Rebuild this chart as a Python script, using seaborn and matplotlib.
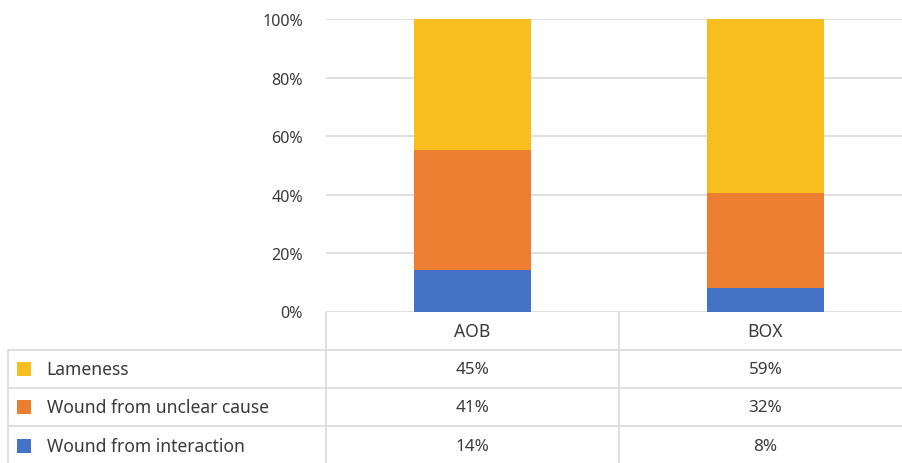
import matplotlib
matplotlib.use("Agg")
import matplotlib.pyplot as plt
from matplotlib.patches import Rectangle
import seaborn as sns
import pandas as pd
import numpy as np

# Share of cases by cause, per housing type (percent)
groups = ["AOB", "BOX"]
causes = ["Lameness", "Wound from unclear cause", "Wound from interaction"]
lameness = [44.6, 59.4]
wound_unclear = [41.1, 32.4]
wound_interaction = [14.3, 8.2]
colors = {"Lameness": "#F8BD1E",
          "Wound from unclear cause": "#ED7D31",
          "Wound from interaction": "#4472C4"}
yticks = [0, 20, 40, 60, 80, 100]

sns.set_theme(style="white")
plt.rcParams["font.family"] = ["Noto Sans", "DejaVu Sans"]
text_color = "#3A3A3A"
line_color = "#D9D9D9"
fs_words = 12.6
fs_table_nums = 12.3
fs_ticks = 11.6

W, H = 903, 464
fig = plt.figure(figsize=(W / 100, H / 100), dpi=100)

# plot area in pixel coordinates
x0, x1 = 326, 912
y_top, y_bot = 20.3, 312.5
ax = fig.add_axes([x0 / W, (H - y_bot) / H, (x1 - x0) / W, (y_bot - y_top) / H])

df = pd.DataFrame({"group": groups,
                   "Lameness": lameness,
                   "Wound from unclear cause": wound_unclear,
                   "Wound from interaction": wound_interaction})
# stacked bars: draw cumulative totals from the top segment down
stack_order = ["Wound from interaction", "Wound from unclear cause", "Lameness"]
cum = df[stack_order].cumsum(axis=1)
for cause in reversed(stack_order):
    sns.barplot(x=df["group"], y=cum[cause], color=colors[cause], width=0.4,
                errorbar=None, linewidth=0, saturation=1, ax=ax, zorder=3)

ax.set_xlim(-0.5, 1.5)
ax.set_ylim(0, 100)
ax.set_yticks(yticks)
ax.set_yticklabels([f"{t}%" for t in yticks], color=text_color, fontsize=fs_ticks)
ax.tick_params(axis="y", length=0, pad=16.5)
ax.set_xticks([])
ax.set_xlabel("")
ax.set_ylabel("")
for s in ax.spines.values():
    s.set_visible(False)
ax.yaxis.grid(True, color=line_color, linewidth=1.2, zorder=0)
ax.set_axisbelow(True)

# data table below the chart, drawn in pixel coordinates
ov = fig.add_axes([0, 0, 1, 1], zorder=-1)
ov.set_xlim(0, W)
ov.set_ylim(H, 0)
ov.axis("off")

fig.canvas.draw()
col_centers = [ax.transData.transform((i, 0))[0] for i in range(len(groups))]
col_mid = ax.transData.transform((0.5, 0))[0]

row_h = 38.3
header_top = y_bot
row_tops = [header_top + row_h * (i + 1) for i in range(len(causes))]
left_x = 8.3

for yt in row_tops:
    ov.plot([left_x, x1], [yt, yt], color=line_color, lw=1.2, solid_capstyle="butt")
ov.plot([left_x, left_x], [row_tops[0], H + 5], color=line_color, lw=1.2)
ov.plot([x0, x0], [header_top, H + 5], color=line_color, lw=1.2)
ov.plot([col_mid, col_mid], [header_top, H + 5], color=line_color, lw=1.2)

# header row
for xc, g in zip(col_centers, groups):
    ov.text(xc, header_top + row_h / 2, g, ha="center", va="center",
            fontsize=fs_words, color=text_color)

series = {"Lameness": lameness,
          "Wound from unclear cause": wound_unclear,
          "Wound from interaction": wound_interaction}
for yt, cause in zip(row_tops, causes):
    yc = yt + row_h / 2
    ov.add_patch(Rectangle((17.3, yc - 7), 13.7, 14, color=colors[cause], lw=0))
    ov.text(46.7, yc, cause, ha="left", va="center", fontsize=fs_words, color=text_color)
    for xc, v in zip(col_centers, series[cause]):
        ov.text(xc, yc, f"{round(v)}%", ha="center", va="center",
                fontsize=fs_table_nums, color=text_color)

fig.savefig("out.png", dpi=100)
